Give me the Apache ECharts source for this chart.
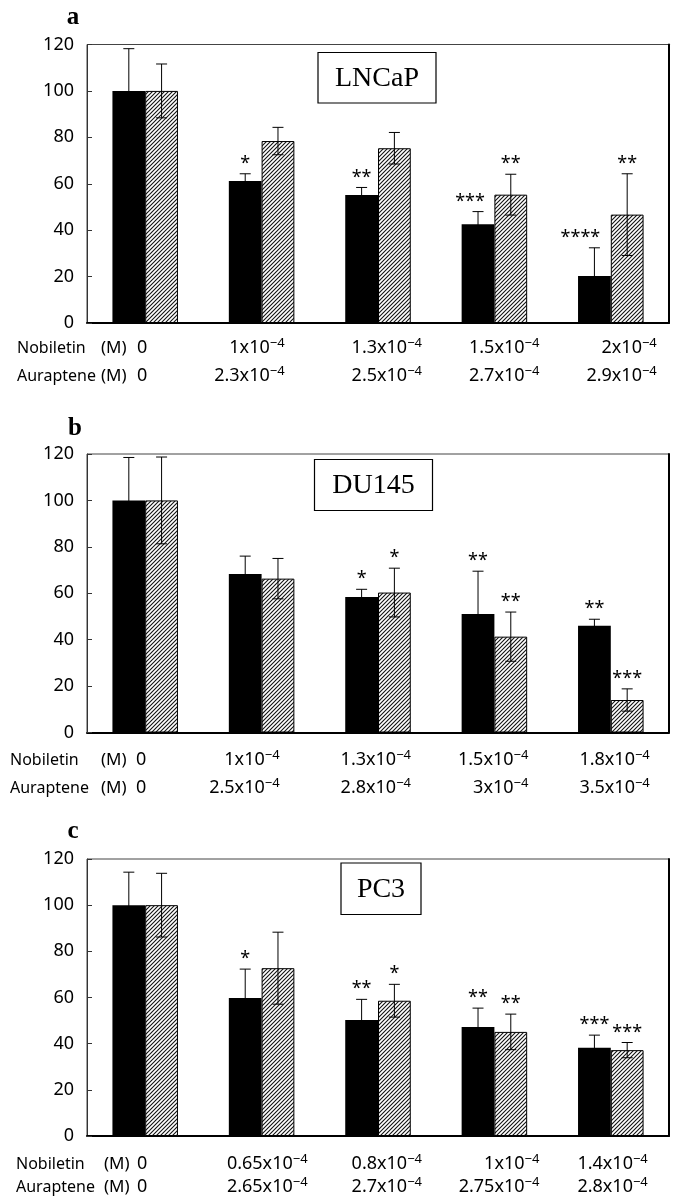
<!DOCTYPE html>
<html><head><meta charset="utf-8">
<script src="https://cdn.jsdelivr.net/npm/echarts@6/dist/echarts.min.js"></script>
<style>html,body{margin:0;padding:0;background:#fff}#c{width:680px;height:1197px}</style>
</head><body><div id="c"></div>
<script>
// ---------------- DATA ----------------
const panelLetters = ['a', 'b', 'c'];
const cellLines = ['LNCaP', 'DU145', 'PC3'];
const yTicks = [0, 20, 40, 60, 80, 100, 120];

// dose labels (category labels), two rows per panel
const nobDoseA = ['0', '1x10^-4', '1.3x10^-4', '1.5x10^-4', '2x10^-4'];
const aurDoseA = ['0', '2.3x10^-4', '2.5x10^-4', '2.7x10^-4', '2.9x10^-4'];
const nobDoseB = ['0', '1x10^-4', '1.3x10^-4', '1.5x10^-4', '1.8x10^-4'];
const aurDoseB = ['0', '2.5x10^-4', '2.8x10^-4', '3x10^-4', '3.5x10^-4'];
const nobDoseC = ['0', '0.65x10^-4', '0.8x10^-4', '1x10^-4', '1.4x10^-4'];
const aurDoseC = ['0', '2.65x10^-4', '2.7x10^-4', '2.75x10^-4', '2.8x10^-4'];

// panel a (LNCaP)
const nobMeanA = [100, 61.2, 55.2, 42.5, 20.3];
const nobErrA  = [18.2, 3.1, 3.2, 5.5, 12.1];
const aurMeanA = [100, 78.4, 75.3, 55.3, 46.7];
const aurErrA  = [11.6, 5.9, 6.8, 8.8, 17.6];
const nobStarsA = ['', '*', '**', '***', '****'];
const aurStarsA = ['', '', '', '**', '**'];

// panel b (DU145)
const nobMeanB = [100, 68.3, 58.4, 51.1, 46.0];
const nobErrB  = [18.5, 7.7, 3.3, 18.4, 2.8];
const aurMeanB = [100, 66.3, 60.3, 41.3, 14.0];
const aurErrB  = [18.7, 8.7, 10.5, 10.6, 4.8];
const nobStarsB = ['', '', '*', '**', '**'];
const aurStarsB = ['', '', '*', '**', '***'];

// panel c (PC3)
const nobMeanC = [100, 59.8, 50.3, 47.2, 38.2];
const nobErrC  = [14.3, 12.5, 8.9, 8.2, 5.5];
const aurMeanC = [100, 72.7, 58.6, 45.1, 37.2];
const aurErrC  = [13.8, 15.6, 7.1, 7.7, 3.3];
const nobStarsC = ['', '*', '**', '**', '***'];
const aurStarsC = ['', '', '*', '**', '***'];

const panels = [
  {nobDose: nobDoseA, aurDose: aurDoseA, nobMean: nobMeanA, nobErr: nobErrA, aurMean: aurMeanA, aurErr: aurErrA, nobStars: nobStarsA, aurStars: aurStarsA},
  {nobDose: nobDoseB, aurDose: aurDoseB, nobMean: nobMeanB, nobErr: nobErrB, aurMean: aurMeanB, aurErr: aurErrB, nobStars: nobStarsB, aurStars: aurStarsB},
  {nobDose: nobDoseC, aurDose: aurDoseC, nobMean: nobMeanC, nobErr: nobErrC, aurMean: aurMeanC, aurErr: aurErrC, nobStars: nobStarsC, aurStars: aurStarsC}
];

// ---------------- LAYOUT / STYLE ----------------
const SANS = '"Noto Sans", "DejaVu Sans", sans-serif';
const SERIF = '"Liberation Serif", "DejaVu Serif", serif';
const CAT_GAP = 0.437;
const gridTop = [44.5, 454, 859];
const gridH = [278.5, 278.5, 277];
const gridLeft = 87, gridRight = 11;
const rowY = [[348, 376], [760, 788], [1164, 1187]];
const headX = [[17, 101], [10, 101], [16, 104]];
const labelShift = [[2, 23, 44, 45, 46], [1, 18, 33, 34, 39], [2, 46, 44, 45, 37]];
// horizontal nudge of significance marks over the Nobiletin bars
const starShiftNob = [[0, 0, 0, -8, -14], [0, 0, 0, 0, 0], [0, 0, 0, 0, 0]];
const letterPos = [[73, 18], [75, 429], [73, 832]];
const boxRect = [[318, 52.5, 118, 50.5], [314.5, 459.5, 118, 51], [341, 863, 80, 51.5]];

function hatchCanvas() {
  const s = 4;
  const c = document.createElement('canvas'); c.width = s; c.height = s;
  const g = c.getContext('2d');
  g.fillStyle = '#fff'; g.fillRect(0, 0, s, s);
  g.strokeStyle = '#111'; g.lineWidth = 1.1;
  [[-1, s + 1, s + 1, -1], [-1, 1, 1, -1], [s - 1, s + 1, s + 1, s - 1]].forEach(p => {
    g.beginPath(); g.moveTo(p[0], p[1]); g.lineTo(p[2], p[3]); g.stroke();
  });
  return c;
}
const HATCH = {image: hatchCanvas(), repeat: 'repeat'};

const chart = echarts.init(document.getElementById('c'), null, {renderer: 'canvas'});

const grids = [], xAxes = [], yAxes = [], series = [];
panels.forEach((p, i) => {
  grids.push({left: gridLeft, right: gridRight, top: gridTop[i], height: gridH[i],
    show: true, borderColor: '#444', borderWidth: 1, containLabel: false});
  xAxes.push({type: 'category', gridIndex: i, data: p.nobDose,
    axisLabel: {show: false}, axisTick: {show: false},
    axisLine: {show: true, lineStyle: {color: '#000', width: 2}}});
  yAxes.push({type: 'value', gridIndex: i, min: yTicks[0], max: yTicks[yTicks.length - 1], interval: yTicks[1] - yTicks[0],
    splitLine: {show: false},
    axisLine: {show: true, lineStyle: {color: '#333', width: 1}},
    axisTick: {show: true, inside: true, length: 5, lineStyle: {color: '#333'}},
    axisLabel: {color: '#000', fontFamily: SANS, fontSize: 18, margin: 13}});
  yAxes.push({type: 'value', gridIndex: i, position: 'right', min: 0, max: 120,
    splitLine: {show: false}, axisTick: {show: false}, axisLabel: {show: false},
    axisLine: {show: true, lineStyle: {color: '#000', width: 2}}});
  const yl = 2 * i;
  series.push({type: 'bar', xAxisIndex: i, yAxisIndex: yl, data: p.nobMean,
    barGap: '0%', barCategoryGap: (CAT_GAP * 100) + '%',
    itemStyle: {color: '#000'}, z: 2, silent: true});
  series.push({type: 'bar', xAxisIndex: i, yAxisIndex: yl, data: p.aurMean,
    barGap: '0%', barCategoryGap: (CAT_GAP * 100) + '%',
    itemStyle: {color: HATCH, borderColor: '#000', borderWidth: 1}, z: 2, silent: true});
  [[p.nobMean, p.nobErr, p.nobStars, -1, starShiftNob[i]], [p.aurMean, p.aurErr, p.aurStars, 1, [0, 0, 0, 0, 0]]].forEach(([m, e, st, side, sh]) => {
    series.push({type: 'custom', xAxisIndex: i, yAxisIndex: yl, z: 5, silent: true, clip: false,
      encode: {x: 0, y: 1},
      data: m.map((v, k) => [k, v, e[k], side]),
      renderItem: (params, api) => {
        const ci = api.value(0), mean = api.value(1), err = api.value(2), sd = api.value(3);
        const band = api.size([1, 0])[0];
        const bw = band * (1 - CAT_GAP) / 2;
        const x = api.coord([ci, mean])[0] + sd * bw / 2;
        const yT = api.coord([ci, mean + err])[1];
        const yB = api.coord([ci, mean - err])[1];
        const cap = 5.5;
        const ls = {stroke: '#000', lineWidth: 1};
        return {type: 'group', children: [
          {type: 'line', shape: {x1: x, y1: yT, x2: x, y2: yB}, style: ls},
          {type: 'line', shape: {x1: x - cap, y1: yT, x2: x + cap, y2: yT}, style: ls},
          {type: 'line', shape: {x1: x - cap, y1: yB, x2: x + cap, y2: yB}, style: ls},
          {type: 'text', style: {text: st[params.dataIndex], x: x + sh[params.dataIndex], y: yT - 10,
            align: 'center', verticalAlign: 'middle', fontFamily: SANS, fontSize: 18, fill: '#000'}}
        ]};
      }});
  });
});

chart.setOption({animation: false, backgroundColor: '#fff', grid: grids, xAxis: xAxes, yAxis: yAxes, series: series});

// ---------------- annotations ----------------
function doseRich(s) {
  const parts = s.split('^');
  if (parts.length < 2) return '{n|' + s + '}';
  return '{n|' + parts[0] + '}{s|' + parts[1].replace('-', '\u2212') + '}';
}
const RICH = {
  n: {fontFamily: SANS, fontSize: 18, lineHeight: 22, fill: '#000', color: '#000'},
  s: {fontFamily: SANS, fontSize: 13, lineHeight: 12, verticalAlign: 'top', fill: '#000', color: '#000'}
};
const graphics = [];
panels.forEach((p, i) => {
  graphics.push({type: 'text', x: letterPos[i][0], y: letterPos[i][1], style: {
    text: panelLetters[i], fontFamily: SERIF, fontWeight: 'bold', fontSize: 25, fill: '#000',
    align: 'center', verticalAlign: 'middle'}});
  const b = boxRect[i];
  graphics.push({type: 'rect', shape: {x: b[0], y: b[1], width: b[2], height: b[3]},
    style: {fill: '#fff', stroke: '#000', lineWidth: 1.2}, z: 10});
  graphics.push({type: 'text', x: b[0] + b[2] / 2, y: b[1] + b[3] / 2 + 1, z: 11, style: {
    text: cellLines[i], fontFamily: SERIF, fontSize: 28, fill: '#000', align: 'center', verticalAlign: 'middle'}});
  [['Nobiletin', p.nobDose], ['Auraptene', p.aurDose]].forEach(([name, doses], r) => {
    const y = rowY[i][r];
    graphics.push({type: 'text', x: headX[i][0], y: y, style: {text: name, fontFamily: SANS, fontSize: 16,
      fill: '#000', align: 'left', verticalAlign: 'middle'}});
    graphics.push({type: 'text', x: headX[i][1], y: y, style: {text: '(M)', fontFamily: SANS, fontSize: 17,
      fill: '#000', align: 'left', verticalAlign: 'middle'}});
    doses.forEach((d, k) => {
      const cx = chart.convertToPixel({xAxisIndex: i}, k);
      graphics.push({type: 'text', x: cx + labelShift[i][k], y: y, style: {
        text: doseRich(d), rich: RICH, fontFamily: SANS, fontSize: 18, fill: '#000',
        align: 'right', verticalAlign: 'middle'}});
    });
  });
});
chart.setOption({graphic: graphics});
</script></body></html>
